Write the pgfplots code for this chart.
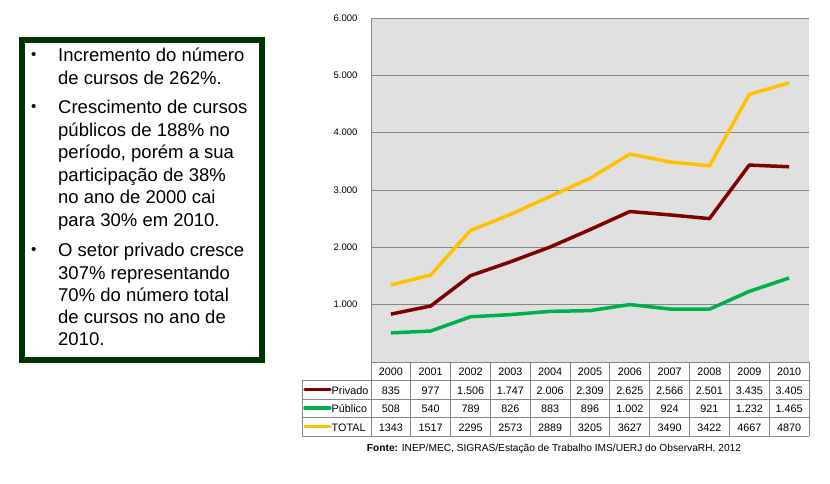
\documentclass[border=0pt]{standalone}
\usepackage{pgfplots}
\pgfplotsset{compat=1.18}
\usepackage{fontspec}
\setmainfont{Liberation Sans}
\definecolor{privado}{RGB}{128,0,0}
\definecolor{publico}{RGB}{0,176,80}
\definecolor{total}{RGB}{255,192,0}
\definecolor{boxgreen}{RGB}{0,51,0}
\definecolor{gridgray}{RGB}{134,134,134}
\definecolor{plotbg}{RGB}{224,224,224}
\begin{document}
\begin{tikzpicture}
\path[use as bounding box] (0pt,0pt) rectangle (830pt,-484pt);
% text box
\draw[boxgreen, line width=6pt] (22pt,-40pt) rectangle (262pt,-360pt);
\begin{scope}[every node/.style={inner sep=0pt, anchor=base west, font=\fontsize{18.5}{22.5}\selectfont}]
\node[font=\fontsize{15}{18}\selectfont] at (31pt,-59.5pt) {•};
\node at (58pt,-61.7pt) {Incremento do número};
\node at (58pt,-84.3pt) {de cursos de 262\%.};
\node[font=\fontsize{15}{18}\selectfont] at (31pt,-111.8pt) {•};
\node at (58pt,-114pt) {Crescimento de cursos};
\node at (58pt,-136.7pt) {públicos de 188\% no};
\node at (58pt,-159pt) {período, porém a sua};
\node at (58pt,-181.7pt) {participação de 38\%};
\node at (58pt,-204pt) {no ano de 2000 cai};
\node at (58pt,-226.7pt) {para 30\% em 2010.};
\node[font=\fontsize{15}{18}\selectfont] at (31pt,-254.5pt) {•};
\node at (58pt,-256.7pt) {O setor privado cresce};
\node at (58pt,-279pt) {307\% representando};
\node at (58pt,-301pt) {70\% do número total};
\node at (58pt,-323pt) {de cursos no ano de};
\node at (58pt,-345.7pt) {2010.};
\end{scope}
\begin{axis}[at={(371pt,-362pt)}, anchor=south west, scale only axis,
  width=438pt, height=344pt, xmin=-0.5, xmax=10.5, ymin=0, ymax=6000,
  axis x line=none, axis y line*=left,
  y axis line style={gridgray, line width=1pt, -},
  ytick={1000,2000,3000,4000,5000,6000},
  yticklabels={1.000,2.000,3.000,4.000,5.000,6.000},
  ymajorgrids, major grid style={gridgray, line width=1pt},
  major tick length=0pt,
  yticklabel style={font=\fontsize{9.5}{11}\selectfont, xshift=-10pt},
  axis background/.style={fill=plotbg},
  clip=false]
\addplot[privado, line width=3.5pt, line join=round, mark=none] coordinates {
(0,835) (1,977) (2,1506) (3,1747) (4,2006) (5,2309) (6,2625) (7,2566) (8,2501) (9,3435) (10,3405)};
\addplot[publico, line width=3.5pt, line join=round, mark=none] coordinates {
(0,508) (1,540) (2,789) (3,826) (4,883) (5,896) (6,1002) (7,924) (8,921) (9,1232) (10,1465)};
\addplot[total, line width=3.5pt, line join=round, mark=none] coordinates {
(0,1343) (1,1517) (2,2295) (3,2573) (4,2889) (5,3205) (6,3627) (7,3490) (8,3422) (9,4667) (10,4870)};
\end{axis}
% data table
\def\cw{39.818}
\begin{scope}[x=1pt, y=1pt, gridgray, line width=1pt]
\draw (371,-362) -- (809,-362);
\foreach \yy in {380,399,417,436} \draw (302,-\yy) -- (809,-\yy);
\draw (302,-380) -- (302,-436);
\foreach \k in {0,...,11} \draw ({371+\k*\cw},-362) -- ({371+\k*\cw},-436);
\end{scope}
\begin{scope}[x=1pt, y=1pt, every node/.style={inner sep=0pt, anchor=base, font=\fontsize{10.8}{12}\selectfont}]
\foreach \v [count=\i from 0] in {2000,2001,2002,2003,2004,2005,2006,2007,2008,2009,2010}
  \node at ({371+(\i+0.5)*\cw},-375.3) {\v};
\foreach \v [count=\i from 0] in {835,977,1.506,1.747,2.006,2.309,2.625,2.566,2.501,3.435,3.405}
  \node at ({371+(\i+0.5)*\cw},-394) {\v};
\foreach \v [count=\i from 0] in {508,540,789,826,883,896,1.002,924,921,1.232,1.465}
  \node at ({371+(\i+0.5)*\cw},-412.5) {\v};
\foreach \v [count=\i from 0] in {1343,1517,2295,2573,2889,3205,3627,3490,3422,4667,4870}
  \node at ({371+(\i+0.5)*\cw},-431) {\v};
\draw[privado, line width=3.5pt, line cap=round] (305,-389.5) -- (330,-389.5);
\draw[publico, line width=3.5pt, line cap=round] (305,-408) -- (330,-408);
\draw[total, line width=3.5pt, line cap=round] (305,-426.5) -- (330,-426.5);
\node[anchor=base west] at (331.5,-394) {Privado};
\node[anchor=base west] at (331.5,-412.5) {Público};
\node[anchor=base west] at (331.5,-431) {TOTAL};
\end{scope}
\node[inner sep=0pt, anchor=base, font=\fontsize{10.2}{12}\selectfont] at (554pt,-451pt) {\textbf{Fonte:} INEP/MEC, SIGRAS/Estação de Trabalho IMS/UERJ do ObservaRH, 2012};
\end{tikzpicture}
\end{document}
